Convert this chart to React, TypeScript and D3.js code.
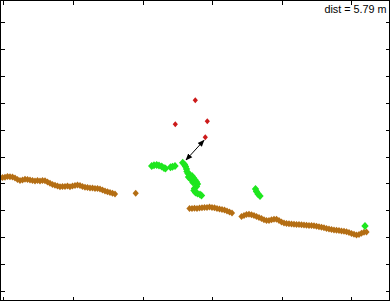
import React from "react";
import * as d3 from "d3";

// Data in metres (x: along track, y: across track)
const brownX = [0, 0.5, 1.0, 1.5, 2.0, 2.5, 3.0, 3.5, 4.0, 4.5, 5.0, 5.5, 6.0, 6.5, 7.0, 7.5, 8.0, 8.5, 9.0, 9.5, 10.0, 10.5, 11.0, 11.5, 12.0, 12.5, 13.0, 13.5, 14.0, 14.5, 15.0, 15.5, 16.0, 16.5, 17.0, 17.5, 18.0, 18.5, 19.0, 19.5, 20.0, 20.5, 21.0, 21.5, 22.0, 22.5, 23.0,
  27.14,
  37.9, 38.4, 38.9, 39.4, 39.9, 40.4, 40.9, 41.4, 41.9, 42.4, 42.9, 43.4, 43.9, 44.4, 44.9, 45.4, 45.9, 46.4,
  48.3, 48.8, 49.3, 49.8, 50.3, 50.8, 51.3, 51.8, 52.3, 52.8, 53.3, 53.8, 54.3, 54.8, 55.3, 55.8, 56.3, 56.8, 57.3, 57.8, 58.3, 58.8, 59.3, 59.8, 60.3, 60.8, 61.3, 61.8, 62.3, 62.8, 63.3, 63.8, 64.3, 64.8, 65.3, 65.8, 66.3, 66.8, 67.3, 67.8, 68.3, 68.8, 69.3, 69.8, 70.3, 70.8, 71.3, 71.8, 72.3, 72.8, 73.3];
const brownY = [24.8, 24.9, 24.94, 25.1, 25.06, 25.0, 24.8, 24.5, 24.3, 24.4, 24.54, 24.5, 24.4, 24.3, 24.2, 24.3, 24.2, 24.3, 24.26, 24.0, 23.74, 23.5, 23.34, 23.2, 23.06, 23.1, 23.1, 23.2, 23.06, 23.2, 23.3, 23.4, 23.3, 23.1, 22.94, 22.9, 22.8, 22.8, 22.7, 22.7, 22.6, 22.4, 22.2, 22.06, 21.9, 21.74, 21.6,
  21.74,
  18.7, 18.7, 18.74, 18.7, 18.8, 18.86, 18.9, 18.9, 19.0, 18.9, 18.84, 18.7, 18.6, 18.5, 18.4, 18.2, 18.0, 17.8,
  17.1, 17.3, 17.5, 17.54, 17.44, 17.3, 17.1, 16.9, 16.7, 16.44, 16.3, 16.3, 16.44, 16.54, 16.54, 16.3, 16.0, 15.8, 15.7, 15.64, 15.6, 15.56, 15.5, 15.48, 15.44, 15.4, 15.36, 15.32, 15.3, 15.24, 15.14, 15.04, 14.94, 14.84, 14.7, 14.6, 14.5, 14.4, 14.36, 14.3, 14.2, 14.14, 14.04, 13.9, 13.7, 13.54, 13.4, 13.5, 13.74, 13.94, 14.0];

const greenX = [30.34, 30.8, 31.34, 31.8, 32.34, 32.8, 33.1, 34.1, 34.5, 35.0,
  36.54, 36.9, 37.1, 37.3, 37.4, 37.6, 38.0, 38.4, 38.7, 39.0, 39.3, 39.5, 39.3, 38.9, 38.8, 39.1, 39.5, 40.0, 40.3,
  37.7, 38.2, 38.6,
  51.1, 51.3, 51.6, 52.0,
  73.0];
const greenY = [27.2, 27.34, 27.4, 27.3, 27.1, 26.8, 26.7, 26.94, 27.06, 27.2,
  27.86, 27.5, 27.1, 26.6, 26.1, 25.7, 25.4, 25.2, 24.8, 24.4, 24.0, 23.6, 23.1, 22.7, 22.3, 21.9, 21.7, 21.5, 21.3,
  25.0, 24.5, 23.9,
  22.6, 22.1, 21.6, 21.2,
  15.2];

const redX = [39.06, 35.06, 41.46, 41.06];
const redY = [40.34, 35.54, 36.14, 32.94];

const arrowFrom = [37.2, 28.4];
const arrowTo = [40.8, 32.34];
const distLabel = "dist = 5.79 m";

const xTicks = [0.66, 14.58, 28.5, 42.42, 56.34, 70.26];
const yTicks = [2.24, 7.61, 12.98, 18.35, 23.72, 29.09, 34.46, 39.83, 45.2, 50.57, 55.94];

const W = 391;
const H = 302;

function diamond(cx: number, cy: number, rx: number, ry: number) {
  return `M${cx},${cy - ry}L${cx + rx},${cy}L${cx},${cy + ry}L${cx - rx},${cy}Z`;
}

export default function App() {
  const x = d3.scaleLinear().domain([0, 78.2]).range([0, W]);
  const y = d3.scaleLinear().domain([0, 60.4]).range([H, 0]);
  const left = 0.5, right = 389.5, top = 0.5, bottom = 300.5;
  const tl = 4;

  const ax1 = x(arrowFrom[0]), ay1 = y(arrowFrom[1]);
  const ax2 = x(arrowTo[0]), ay2 = y(arrowTo[1]);

  return (
    <div style={{ position: "absolute", left: 0, top: 0 }}>
      <svg width={W} height={H} style={{ display: "block", background: "#fff" }}>
        <defs>
          <marker id="ah" viewBox="0 0 10 10" refX="9" refY="5" markerWidth="7" markerHeight="7" orient="auto-start-reverse" markerUnits="userSpaceOnUse">
            <path d="M0,1 L10,5 L0,9 Z" fill="#000" />
          </marker>
        </defs>
        <rect x={0} y={0} width={W} height={H} fill="#fff" />
        <g fill="#b46e14">
          {brownX.map((v, i) => (
            <path key={i} d={diamond(x(v), y(brownY[i]), 3.1, 3.5)} />
          ))}
        </g>
        <g fill="#1ee61e">
          {greenX.map((v, i) => (
            <path key={i} d={diamond(x(v), y(greenY[i]), 3.7, 4.0)} />
          ))}
        </g>
        <g fill="#cc1a1a">
          {redX.map((v, i) => (
            <path key={i} d={diamond(x(v), y(redY[i]), 2.6, 3.0)} />
          ))}
        </g>
        <line x1={ax1} y1={ay1} x2={ax2} y2={ay2} stroke="#000" strokeWidth={1}
          markerStart="url(#ah)" markerEnd="url(#ah)" />
        <g stroke="#000" strokeWidth={1} fill="none" shapeRendering="crispEdges">
          <rect x={left} y={top} width={right - left} height={bottom - top} />
          {xTicks.map((t, i) => (
            <g key={"x" + i}>
              <line x1={Math.round(x(t)) + 0.5} x2={Math.round(x(t)) + 0.5} y1={bottom} y2={bottom - tl} />
              <line x1={Math.round(x(t)) + 0.5} x2={Math.round(x(t)) + 0.5} y1={top} y2={top + tl} />
            </g>
          ))}
          {yTicks.map((t, i) => (
            <g key={"y" + i}>
              <line y1={Math.round(y(t)) + 0.5} y2={Math.round(y(t)) + 0.5} x1={left} x2={left + tl} />
              <line y1={Math.round(y(t)) + 0.5} y2={Math.round(y(t)) + 0.5} x1={right} x2={right - tl} />
            </g>
          ))}
        </g>
        <text x={386.5} y={12.5} textAnchor="end" fontFamily="'Liberation Sans', Arial, sans-serif" fontSize={10.8} fill="#000">
          {distLabel}
        </text>
      </svg>
    </div>
  );
}
